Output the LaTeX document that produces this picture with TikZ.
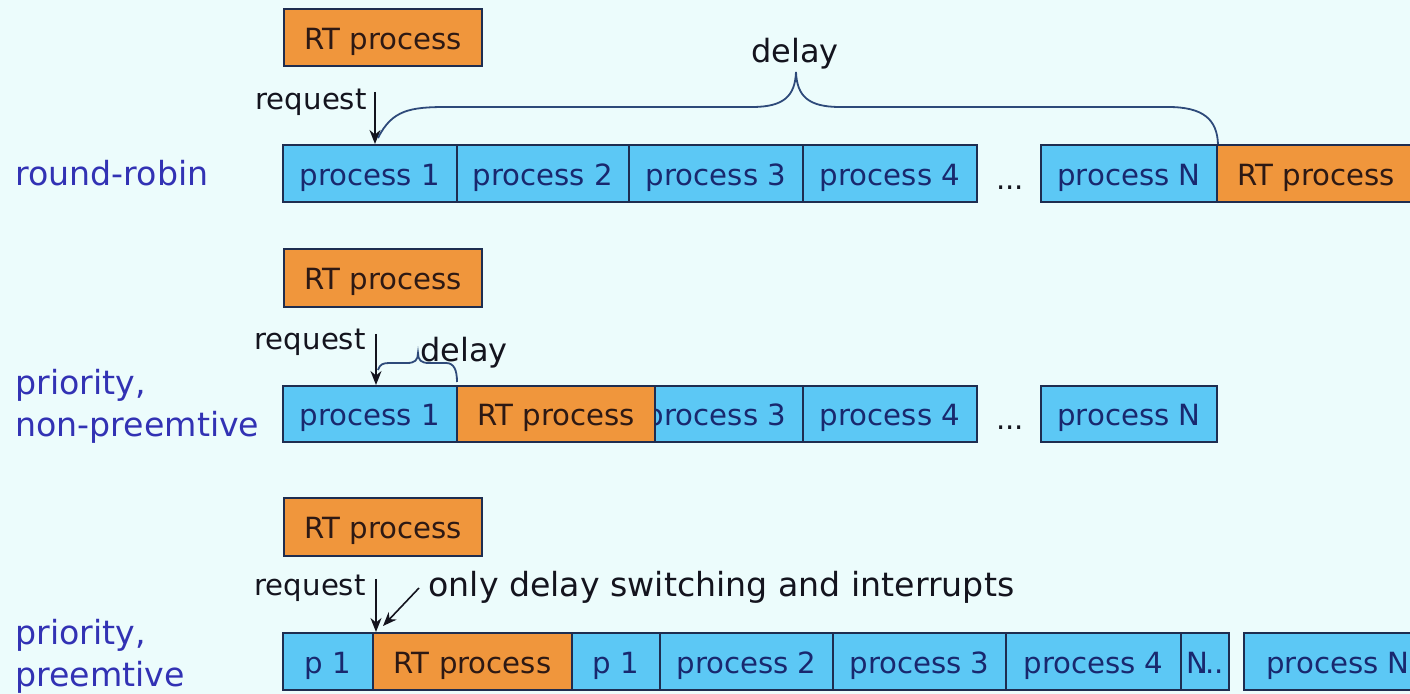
\documentclass[tikz,border=0pt]{standalone}
\usepackage{fontspec}
\setmainfont{DejaVu Sans}
\usetikzlibrary{arrows.meta}
\definecolor{bgc}{RGB}{236,252,252}
\definecolor{bluebox}{RGB}{92,200,245}
\definecolor{orangebox}{RGB}{240,150,60}
\definecolor{edgec}{RGB}{30,45,80}
\definecolor{bluetext}{RGB}{25,40,110}
\definecolor{orangetext}{RGB}{45,25,20}
\definecolor{labelc}{RGB}{50,50,180}
\definecolor{bracec}{RGB}{46,74,122}
\definecolor{inkc}{RGB}{20,20,30}
\begin{document}
\begin{tikzpicture}[x=0.5pt,y=-0.5pt,
  boxfont/.style={font=\fontsize{14.6}{17}\selectfont},
  pbox/.style={boxfont,draw=edgec,line width=1pt,fill=bluebox,text=bluetext,
    minimum height=28.5pt,inner sep=0pt,text height=12pt,text depth=0pt},
  rtbox/.style={pbox,fill=orangebox,text=orangetext},
  wd/.style={minimum width=#1*0.5pt},
  ht/.style={minimum height=#1*0.5pt},
  reqtext/.style={boxfont,text=inkc,inner sep=0pt,anchor=base east},
  dlytext/.style={font=\fontsize{16}{19}\selectfont,text=inkc,inner sep=0pt,anchor=base},
  rowlabel/.style={font=\fontsize{16.6}{21}\selectfont,text=labelc,inner sep=0pt,anchor=base west},
  dotstext/.style={boxfont,text=inkc,inner sep=0pt,anchor=base},
  arr/.style={draw=inkc,line width=0.8pt,-{Stealth[length=7pt,width=5.5pt]}},
  brace/.style={draw=bracec,line width=0.9pt},
]
\fill[bgc] (0,0) rectangle (1410,694);
\useasboundingbox (0,0) rectangle (1410,694);

% ---------------- Row 1: round-robin
\node[rowlabel] (lab1) at (15,186) {round-robin};
\node[rtbox,wd=198,ht=57] (t1) at (383,37.5) {RT process};
\node[reqtext] (req1) at (367,110) {request};
\node[pbox,wd=174] (r1p1) at (370,173.5) {process 1};
\node[pbox,wd=172] (r1p2) at (543,173.5) {process 2};
\node[pbox,wd=174] (r1p3) at (716,173.5) {process 3};
\node[pbox,wd=174] (r1p4) at (890,173.5) {process 4};
\node[dotstext] (r1d) at (1010,190) {...};
\node[pbox,wd=176] (r1pN) at (1129,173.5) {process N};
\node[rtbox,wd=198] (r1rt) at (1316,173.5) {RT process};
\coordinate (a1) at (375,92);
\draw[arr] (a1) -- (a1 |- r1p1.north);
\draw[brace] (378,138) .. controls (392,110) and (410,107) .. (447,107) -- (752,107)
  .. controls (784,107) and (795,96) .. (796,72)
  .. controls (797,96) and (808,107) .. (840,107) -- (1168,107)
  .. controls (1204,107) and (1217,120) .. (r1pN.north east);
\node[dlytext] (d1) at (795,63) {delay};

% ---------------- Row 2: priority, non-preemptive
\node[rowlabel] (lab2a) at (15,395) {priority,};
\node[rowlabel] (lab2b) at (15,437) {non-preemtive};
\node[rtbox,wd=198,ht=58] (t2) at (383,278) {RT process};
\node[reqtext] (req2) at (366,350) {request};
\node[pbox,wd=174,ht=56] (r2p1) at (370,414) {process 1};
\node[pbox,wd=174,ht=56] (r2p3) at (716,414) {process 3};
\node[rtbox,wd=198,ht=56] (r2rt) at (556,414) {RT process};
\node[pbox,wd=174,ht=56] (r2p4) at (890,414) {process 4};
\node[dotstext] (r2d) at (1010,430) {...};
\node[pbox,wd=176,ht=56] (r2pN) at (1129,414) {process N};
\coordinate (a2) at (376,334);
\draw[arr] (a2) -- (a2 |- r2p1.north);
\draw[brace] (378,370) .. controls (380,364) and (383,363) .. (390,363) -- (407,363)
  .. controls (415,363) and (418,360) .. (418,353)
  .. controls (418,360) and (421,363) .. (429,363) -- (446,363)
  .. controls (454,363) and (457,370) .. (457,382);
\node[dlytext] (d2) at (464,362) {delay};

% ---------------- Row 3: priority, preemptive
\node[rowlabel] (lab3a) at (15,645) {priority,};
\node[rowlabel] (lab3b) at (15,687) {preemtive};
\node[rtbox,wd=198,ht=58] (t3) at (383,527) {RT process};
\node[reqtext] (req3) at (366,596) {request};
\node[pbox,wd=90,ht=57] (r3a) at (328,661.5) {p 1};
\node[rtbox,wd=199,ht=57] (r3rt) at (472.5,661.5) {RT process};
\node[pbox,wd=88,ht=57] (r3b) at (616,661.5) {p 1};
\node[pbox,wd=173,ht=57] (r3p2) at (746.5,661.5) {process 2};
\node[pbox,wd=173,ht=57] (r3p3) at (919.5,661.5) {process 3};
\node[pbox,wd=175,ht=57] (r3p4) at (1093.5,661.5) {process 4};
\node[pbox,wd=48,ht=57] (r3n) at (1205,661.5) {N\kern-0.4em...};
\node[pbox,wd=188,ht=57] (r3pN) at (1338,661.5) {process N};
\coordinate (a3) at (376,579);
\draw[arr] (a3) -- (a3 |- r3a.north);
\node[dlytext,anchor=base west,font=\fontsize{16.6}{20}\selectfont] (only) at (428,597) {only delay switching and interrupts};
\coordinate (a4) at (419,588);
\coordinate (a4t) at (383,626);
\draw[arr] (a4) -- (a4t);
\end{tikzpicture}
\end{document}
